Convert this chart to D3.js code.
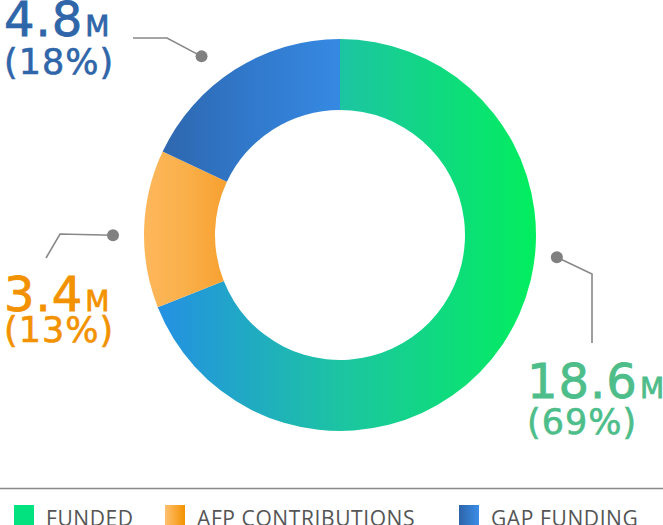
<!DOCTYPE html>
<html>
<head>
<meta charset="utf-8">
<script src="https://cdn.jsdelivr.net/npm/d3@7"></script>
<style>
    html, body { margin: 0; padding: 0; background: #fff; }
    #donut-chart { width: 663px; height: 525px; }
    .val-lab { font-family: 'DejaVu Sans', sans-serif; }
    .leg-lab { font-family: 'Open Sans', sans-serif; font-size: 21px; fill: #555; letter-spacing: 0.6px; }
</style>
</head>
<body>
<div id="donut-chart"></div>
<script>
const categories = ['FUNDED', 'AFP CONTRIBUTIONS', 'GAP FUNDING'];
const amounts = [18.6, 3.4, 4.8];          // millions
const shares = [69, 13, 18];               // percent of total
const amountLabels = ['18.6', '3.4', '4.8'];

// ******************************* //
// DONUT FOR FUNDING SPLIT //
// ******************************* //

const WIDTH = 663;
const HEIGHT = 525;
const CX = 340;
const CY = 235;
const R_OUT = 196;
const R_IN = 125;

// gradient stops per slice (left -> right)
const sliceStops = [
    ['#2490e3', '#1cc6a0', '#02ee5e'],
    ['#fdb75c', '#fab04a', '#f7a030'],
    ['#2e67ae', '#3179cc', '#3689e2']
];
const legendStops = [
    ['#02e37f', '#02e37f'],
    ['#ffc070', '#f39200'],
    ['#2e64a8', '#3a8ee8']
];
const labelColors = ['#4dbd8a', '#f39200', '#2f65a9'];

const svg = d3.select('#donut-chart').append('svg')
    .attr('width', WIDTH)
    .attr('height', HEIGHT);

const defs = svg.append('defs');

function addGradient(id, stops) {
    const grad = defs.append('linearGradient')
        .attr('id', id)
        .attr('x1', '0%').attr('x2', '100%')
        .attr('y1', '0%').attr('y2', '0%');
    stops.forEach((c, j) => {
        grad.append('stop').attr('offset', (j / (stops.length - 1) * 100) + '%').attr('stop-color', c);
    });
}
sliceStops.forEach((s, i) => addGradient('slice-grad-' + i, s));
legendStops.forEach((s, i) => addGradient('leg-grad-' + i, s));

const data = categories.map((name, i) => ({ name, value: amounts[i], share: shares[i], label: amountLabels[i] }));

const pie = d3.pie()
    .value(d => d.share)
    .sort(null);

const arc = d3.arc()
    .innerRadius(R_IN)
    .outerRadius(R_OUT);

const arcs = pie(data);

const g = svg.append('g')
    .attr('transform', `translate(${CX}, ${CY})`);

g.selectAll('.slice')
    .data(arcs)
    .enter()
    .append('path')
    .attr('class', 'slice')
    .attr('d', arc)
    .attr('fill', (d, i) => `url(#slice-grad-${i})`);

// LEADER LINES + LABELS
// frac = where along the slice the dot sits, rad = its distance from the centre
const leaders = [
    { frac: 0.386, rad: 218, elbow: [592, 274], end: [592, 343], tx: 527, ty: 398, py: 434 },
    { frac: 0.46, rad: 227, elbow: [60, 234], end: [46, 258], tx: 4, ty: 311, py: 342 },
    { frac: 0.417, rad: 226, elbow: [167, 38], end: [133, 38], tx: 4, ty: 36, py: 74 }
];

arcs.forEach((d, i) => {
    const L = leaders[i];
    const a = d.startAngle + (d.endAngle - d.startAngle) * L.frac;
    const dx = CX + Math.sin(a) * L.rad;
    const dy = CY - Math.cos(a) * L.rad;

    svg.append('polyline')
        .attr('points', [[dx, dy], L.elbow, L.end].map(p => p.join(',')).join(' '))
        .attr('fill', 'none')
        .attr('stroke', '#888')
        .attr('stroke-width', 1.6);

    svg.append('circle')
        .attr('cx', dx)
        .attr('cy', dy)
        .attr('r', 6)
        .attr('fill', '#808080');

    const t = svg.append('text')
        .attr('class', 'val-lab')
        .attr('x', L.tx)
        .attr('y', L.ty)
        .attr('fill', labelColors[i])
        .attr('stroke', labelColors[i])
        .attr('stroke-width', 0.8);
    t.append('tspan').attr('font-size', 48).attr('letter-spacing', 1).text(d.data.label);
    t.append('tspan').attr('font-size', 28).attr('dx', 2).text('M');

    svg.append('text')
        .attr('class', 'val-lab')
        .attr('x', L.tx)
        .attr('y', L.py)
        .attr('font-size', 35)
        .attr('letter-spacing', 1)
        .attr('fill', labelColors[i])
        .attr('stroke', labelColors[i])
        .attr('stroke-width', 0.6)
        .text(`(${d.data.share}%)`);
});

// LEGEND
svg.append('line')
    .attr('x1', 0).attr('x2', WIDTH)
    .attr('y1', 488.5).attr('y2', 488.5)
    .attr('stroke', '#888')
    .attr('stroke-width', 1.5);

const legendX = [14, 165, 459];
categories.forEach((name, i) => {
    svg.append('rect')
        .attr('x', legendX[i])
        .attr('y', 505)
        .attr('width', 20)
        .attr('height', 22)
        .attr('fill', `url(#leg-grad-${i})`);
    svg.append('text')
        .attr('class', 'leg-lab')
        .attr('x', legendX[i] + 32)
        .attr('y', 526)
        .text(name);
});
</script>
</body>
</html>
